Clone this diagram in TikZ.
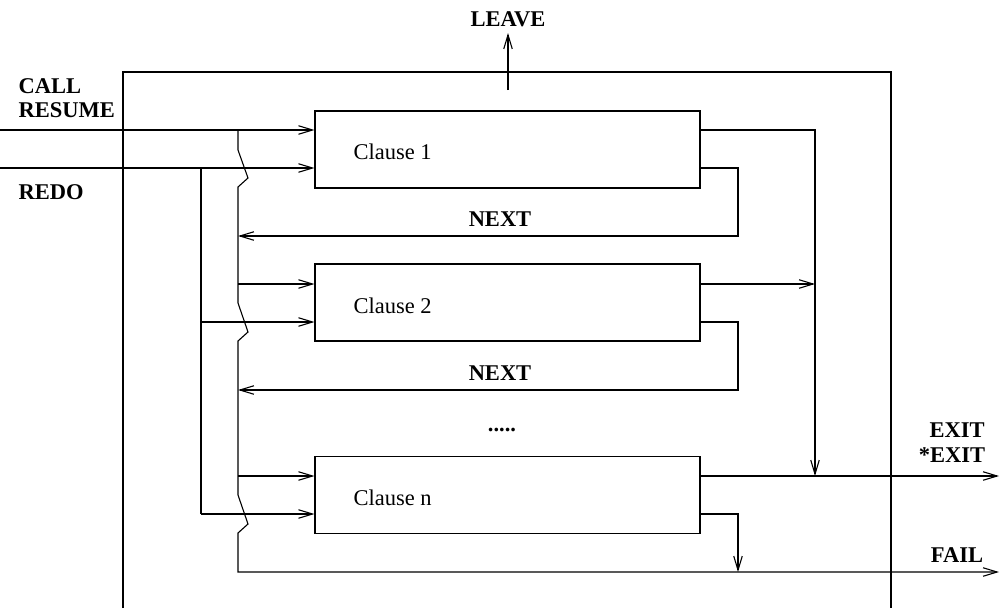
\documentclass[tikz,border=0pt]{standalone}
\usepackage{fontspec}
\setmainfont{Liberation Serif}
\usetikzlibrary{arrows.meta}
\begin{document}
\begin{tikzpicture}[x=1pt,y=-1pt,
  every path/.style={line width=1.1pt},
  arr/.style={-{Straight Barb[length=14pt,width=8.5pt,line width=1.1pt]}},
  clausebox/.style={draw, minimum width=385pt, minimum height=77pt, inner sep=0pt},
  lbl/.style={font=\fontsize{22.5}{27}\selectfont\bfseries, inner sep=0pt},
  ctext/.style={font=\fontsize{22.5}{27}\selectfont, inner sep=0pt, anchor=base west}]
\useasboundingbox (0,0) rectangle (1000,608);
% outer box (open at bottom)
\draw (123,608) -- (123,72) -- (891,72) -- (891,608);
% clause boxes
\node[clausebox] (c1) at (507.5,149.5) {};
\node[clausebox] (c2) at (507.5,302.5) {};
\node[clausebox] (cn) at (507.5,495) {};
\node[ctext] (t1) at (353,159) {Clause 1};
\node[ctext] (t2) at (353,313) {Clause 2};
\node[ctext] (tn) at (353,505) {Clause n};
% labels
\node[lbl, anchor=base] (leave) at (508,26) {LEAVE};
\node[lbl, anchor=base west] (call) at (18,93) {CALL};
\node[lbl, anchor=base west] (resume) at (18,117) {RESUME};
\node[lbl, anchor=base west] (redo) at (18,199) {REDO};
\node[lbl, anchor=base] (next1) at (500,226) {NEXT};
\node[lbl, anchor=base] (next2) at (500,380) {NEXT};
\node[lbl, anchor=base] (dots) at (502,431) {.....};
\node[lbl, anchor=base] (exit) at (957,437) {EXIT};
\node[lbl, anchor=base] (sexit) at (952,462) {*EXIT};
\node[lbl, anchor=base] (fail) at (957,562) {FAIL};
% coordinates
\coordinate (callin) at (0,130);
\coordinate (redoin) at (0,168);
\coordinate (exitout) at (999,476);
\coordinate (failout) at (999,572);
\coordinate (leavefoot) at (508,90);
% LEAVE
\draw[arr] (leavefoot) -- (leave.south |- 0,33);
% CALL / RESUME and REDO inputs
\draw[arr] (callin) -- (c1.west |- callin);
\draw[arr] (redoin) -- (c1.west |- redoin);
% REDO bus
\draw (201,168) -- (201,514);
\draw[arr] (201,322) -- (c2.west |- 0,322);
\draw[arr] (201,514) -- (cn.west |- 0,514);
% CALL bus with jumps, ending in FAIL
\draw[arr] (238,130) -- (238,150) -- (248,178) -- (238,187) -- (238,303) -- (248,332) -- (238,341)
  -- (238,495) -- (248,524) -- (238,533) -- (238,572) -- (failout);
\draw[arr] (238,284) -- (c2.west |- 0,284);
\draw[arr] (238,476) -- (cn.west |- 0,476);
% NEXT loops
\draw[arr] (c1.east |- 0,168) -- (738,168) -- (738,236) -- (238,236);
\draw[arr] (c2.east |- 0,322) -- (738,322) -- (738,390) -- (238,390);
\draw[arr] (cn.east |- 0,514) -- (738,514) -- (738,572);
% EXIT paths
\draw[arr] (c1.east |- 0,130) -- (815,130) -- (815,476);
\draw[arr] (c2.east |- 0,284) -- (815,284);
\draw[arr] (cn.east |- 0,476) -- (exitout);
\end{tikzpicture}
\end{document}
